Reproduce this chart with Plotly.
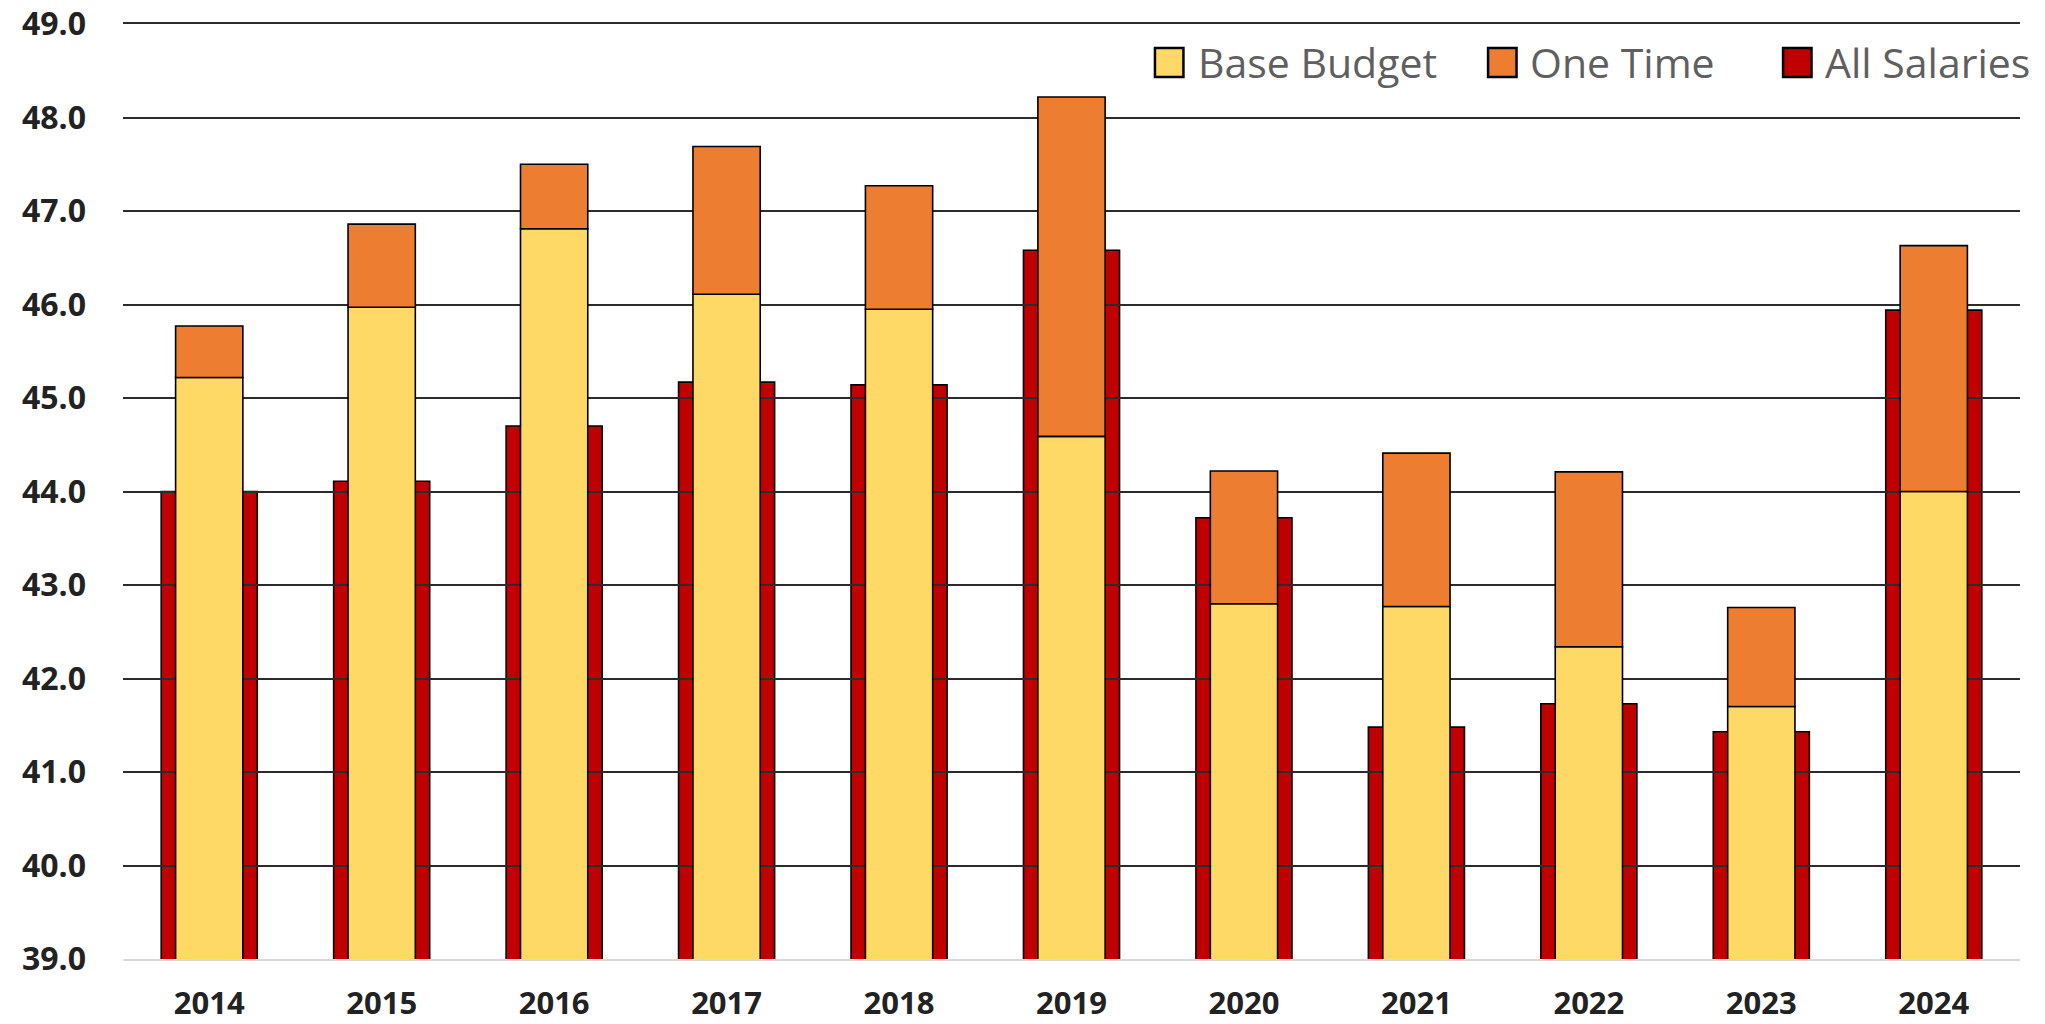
import plotly.graph_objects as go

# ---- data ----
years = ["2014", "2015", "2016", "2017", "2018", "2019", "2020", "2021", "2022", "2023", "2024"]
base_budget = [45.22, 45.97, 46.81, 46.11, 45.95, 44.59, 42.80, 42.77, 42.34, 41.70, 44.00]
one_time = [0.55, 0.89, 0.69, 1.58, 1.32, 3.63, 1.42, 1.64, 1.87, 1.06, 2.63]
all_salaries = [44.00, 44.11, 44.70, 45.17, 45.14, 46.58, 43.72, 41.48, 41.73, 41.43, 45.94]
y_ticks = [39.0, 40.0, 41.0, 42.0, 43.0, 44.0, 45.0, 46.0, 47.0, 48.0, 49.0]

# ---- styles ----
C_BASE = "#FFD966"
C_ONE = "#ED7D31"
C_SAL = "#C00000"
EDGE = "#000000"
GRID = "#2b2b2b"
TICK_FONT = dict(family="Open Sans", size=32, color="#222222", weight="bold")
XTICK_FONT = dict(family="Open Sans", size=31, color="#222222", weight="bold")
LEG_FONT = dict(family="Open Sans", size=41, color="#5f5f5f")

fig = go.Figure()

# Salaries bars (subplot 1, underneath the gridlines of subplot 2)
fig.add_trace(go.Bar(
    x=years, y=all_salaries, name="All Salaries", width=0.557,
    marker=dict(color=C_SAL, line=dict(color=EDGE, width=1.6)),
    xaxis="x", yaxis="y", showlegend=False,
))
# Base budget + one time stacked (subplot 2, above its gridlines)
fig.add_trace(go.Bar(
    x=years, y=base_budget, name="Base Budget", width=0.39,
    marker=dict(color=C_BASE, line=dict(color=EDGE, width=1.6)),
    xaxis="x2", yaxis="y2", showlegend=False,
))
fig.add_trace(go.Bar(
    x=years, y=one_time, base=base_budget, name="One Time", width=0.39,
    marker=dict(color=C_ONE, line=dict(color=EDGE, width=1.6)),
    xaxis="x2", yaxis="y2", showlegend=False,
))

yr = [y_ticks[0], y_ticks[-1]]
common_x = dict(domain=[0, 1], range=[-0.5, len(years) - 0.5], type="category",
                showgrid=False, zeroline=False, fixedrange=True, automargin=False)
common_y = dict(domain=[0, 1], range=yr, tickvals=y_ticks, showgrid=True,
                gridcolor=GRID, gridwidth=2.2, zeroline=False, fixedrange=True,
                automargin=False)

fig.update_layout(
    width=2045, height=1024,
    margin=dict(l=123, r=25, t=24, b=65),
    paper_bgcolor="white",
    plot_bgcolor="rgba(0,0,0,0)",
    barmode="overlay",
    xaxis=dict(**common_x, anchor="y", showline=True, linecolor="#d9d9d9", linewidth=2,
               tickfont=XTICK_FONT, ticks="", ticklabelstandoff=16),
    yaxis=dict(**common_y, anchor="x", tickformat=".1f", tickfont=TICK_FONT,
               ticks="", ticklabelstandoff=36, showline=False),
    # top border line of the second subplot acts as the 49.0 gridline
    xaxis2=dict(**common_x, anchor="y2", side="top", showticklabels=False,
                showline=True, linecolor=GRID, linewidth=2.2),
    yaxis2=dict(**common_y, anchor="x2", showticklabels=False, showline=False),
    font=dict(family="Open Sans"),
)

# ---- custom legend (swatches + text) ----
legend_items = [("Base Budget", C_BASE, 0.5440, 0.5656),
                ("One Time", C_ONE, 0.7196, 0.7406),
                ("All Salaries", C_SAL, 0.8751, 0.8962)]
for label, col, sx, tx in legend_items:
    fig.add_shape(type="rect", xref="paper", yref="paper",
                  x0=sx, x1=sx + 0.0150, y0=0.9433, y1=0.9743,
                  fillcolor=col, line=dict(color=EDGE, width=2.5), layer="above")
    fig.add_annotation(text=label, xref="paper", yref="paper", x=tx, y=0.9590,
                       xanchor="left", yanchor="middle", showarrow=False,
                       font=LEG_FONT)

fig.write_html(
    "out.html",
    config={"displayModeBar": False},
    post_script="document.body.style.margin='0';document.body.style.overflow='hidden';",
)
